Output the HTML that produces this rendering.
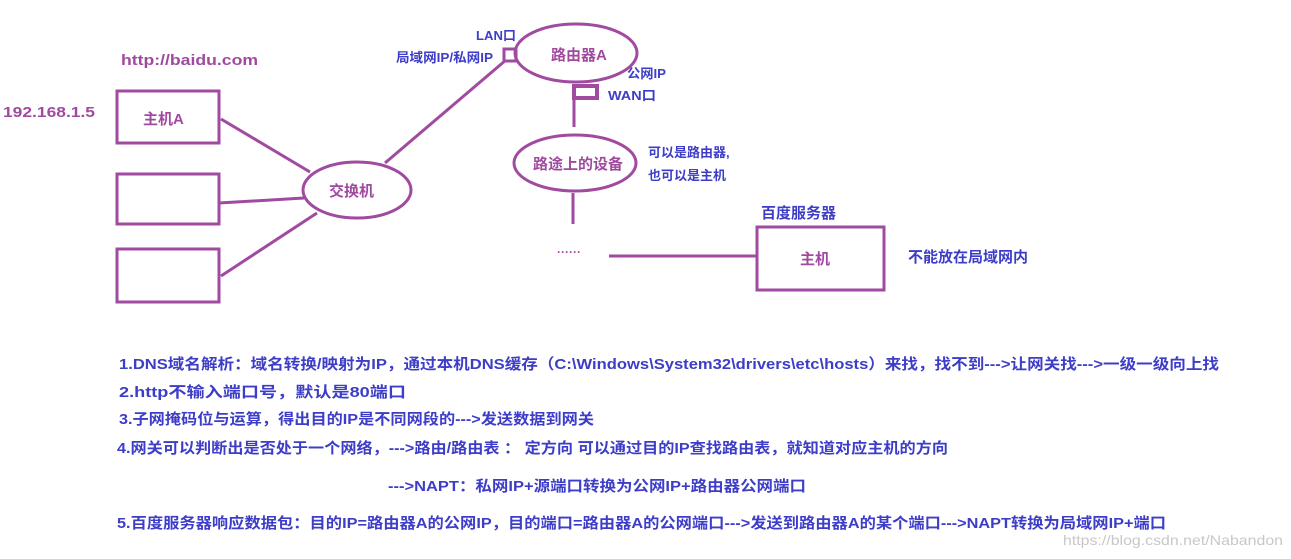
<!DOCTYPE html>
<html><head><meta charset="utf-8"><style>
html,body{margin:0;padding:0;background:#fff;}
svg{display:block;}
text{font-family:"Liberation Sans","Noto Sans CJK SC",sans-serif;font-weight:bold;}
.b{fill:#3d3dc8;font-size:13px;}
.t{fill:#3d3dc8;font-size:15px;}
.p{fill:#a04a9f;font-size:15px;}
</style></head><body>
<svg width="1291" height="559" viewBox="0 0 1291 559" xmlns="http://www.w3.org/2000/svg">
<g stroke="#a04aa0" stroke-width="3" fill="none">
<rect x="117" y="91" width="102" height="52"/>
<rect x="117" y="174" width="102" height="50"/>
<rect x="117" y="249" width="102" height="53"/>
<line x1="221" y1="119" x2="310" y2="172"/>
<line x1="219" y1="203" x2="304" y2="198"/>
<line x1="221" y1="276" x2="317" y2="213"/>
<ellipse cx="357" cy="190" rx="54" ry="28"/>
<line x1="385" y1="163" x2="506" y2="60"/>
<rect x="504" y="49" width="12" height="12"/>
<ellipse cx="576" cy="53" rx="61" ry="29"/>
<rect x="574" y="86" width="23" height="12" stroke-width="4"/>
<line x1="574" y1="98" x2="574" y2="127"/>
<ellipse cx="575" cy="163" rx="61" ry="28"/>
<line x1="573" y1="193" x2="573" y2="224"/>
<line x1="609" y1="256" x2="757" y2="256"/>
<rect x="757" y="227" width="127" height="63"/>
</g>
<text x="557" y="256" fill="#a04aa0" font-size="12">······</text>
<text class="p" x="121" y="65" textLength="137" lengthAdjust="spacingAndGlyphs">http://baidu.com</text>
<text class="p" x="3" y="117" font-size="16" textLength="92" lengthAdjust="spacingAndGlyphs">192.168.1.5</text>
<text class="p" x="143" y="124">主机A</text>
<text class="p" x="329" y="196">交换机</text>
<text class="p" x="551" y="60">路由器A</text>
<text class="p" x="533" y="169">路途上的设备</text>
<text class="p" x="800" y="264">主机</text>
<text class="b" x="476" y="40" textLength="40" lengthAdjust="spacingAndGlyphs">LAN口</text>
<text class="b" x="396" y="62" textLength="97" lengthAdjust="spacingAndGlyphs">局域网IP/私网IP</text>
<text class="b" x="627" y="78" textLength="39" lengthAdjust="spacingAndGlyphs">公网IP</text>
<text class="b" x="608" y="100" textLength="48" lengthAdjust="spacingAndGlyphs">WAN口</text>
<text class="b" x="648" y="157">可以是路由器,</text>
<text class="b" x="648" y="180">也可以是主机</text>
<text class="t" x="761" y="218">百度服务器</text>
<text class="t" x="908" y="262">不能放在局域网内</text>
<text class="t" x="119" y="369" textLength="1100" lengthAdjust="spacingAndGlyphs">1.DNS域名解析：域名转换/映射为IP，通过本机DNS缓存（C:\Windows\System32\drivers\etc\hosts）来找，找不到---&gt;让网关找---&gt;一级一级向上找</text>
<text class="t" x="119" y="397" textLength="287" lengthAdjust="spacingAndGlyphs">2.http不输入端口号，默认是80端口</text>
<text class="t" x="119" y="424" textLength="475" lengthAdjust="spacingAndGlyphs">3.子网掩码位与运算，得出目的IP是不同网段的---&gt;发送数据到网关</text>
<text class="t" x="117" y="453" textLength="831" lengthAdjust="spacingAndGlyphs">4.网关可以判断出是否处于一个网络，---&gt;路由/路由表 ： 定方向   可以通过目的IP查找路由表，就知道对应主机的方向</text>
<text class="t" x="388" y="491" textLength="418" lengthAdjust="spacingAndGlyphs">---&gt;NAPT：私网IP+源端口转换为公网IP+路由器公网端口</text>
<text class="t" x="117" y="528" textLength="1049" lengthAdjust="spacingAndGlyphs">5.百度服务器响应数据包：目的IP=路由器A的公网IP，目的端口=路由器A的公网端口---&gt;发送到路由器A的某个端口---&gt;NAPT转换为局域网IP+端口</text>
<text x="1063" y="545" fill="#c8c8c8" font-size="14" style="font-weight:normal" textLength="220" lengthAdjust="spacingAndGlyphs">https://blog.csdn.net/Nabandon</text>
</svg>
</body></html>
